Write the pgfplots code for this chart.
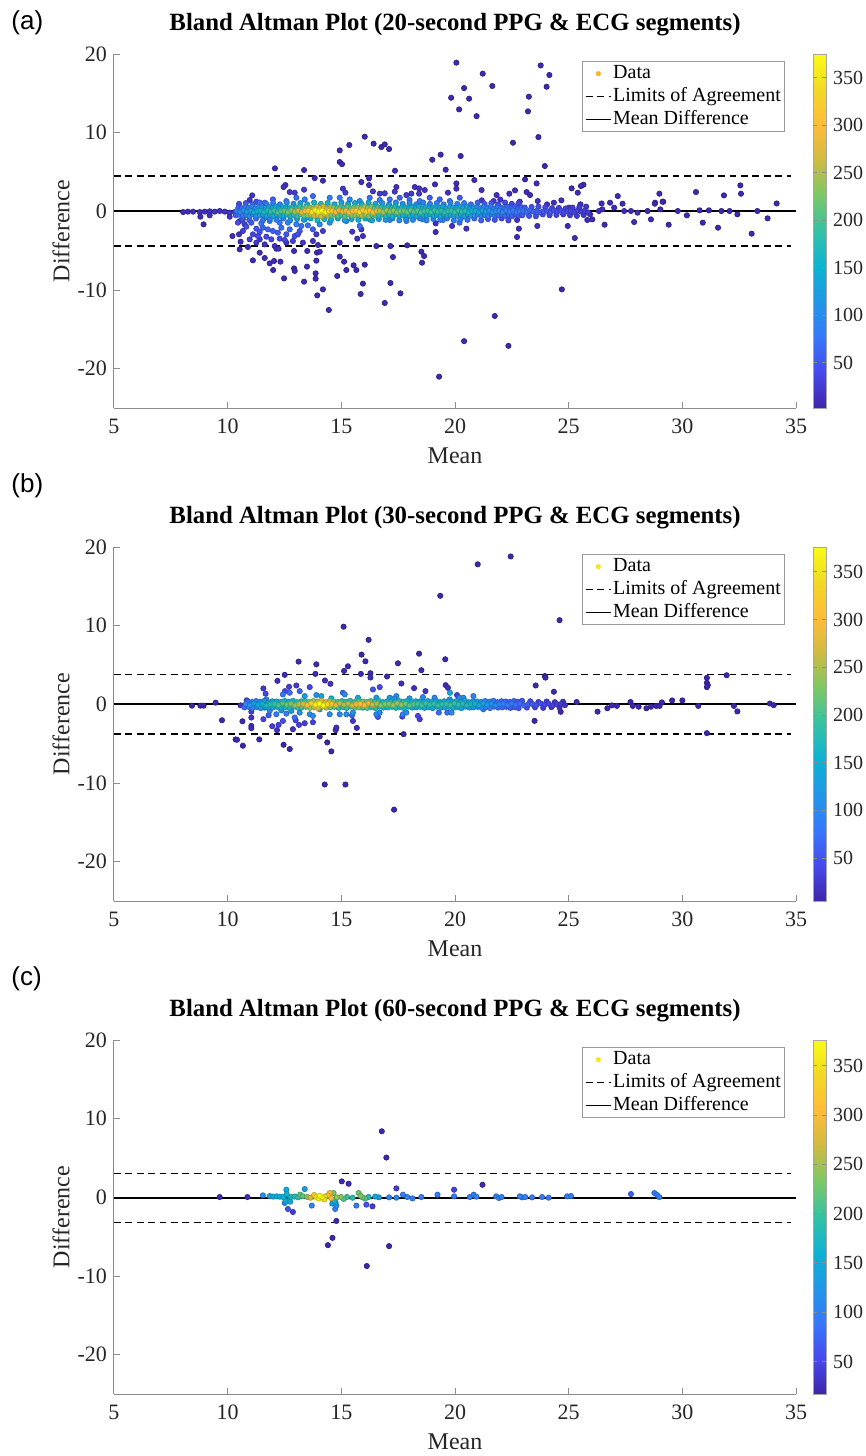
\documentclass[border=0pt]{standalone}
\usepackage{fontspec}
\setmainfont{Liberation Serif}
\newfontfamily\sansf{Liberation Sans}
\usepackage{pgfplots}
\pgfplotsset{compat=1.18}
\usepackage{pgfplotstable}

% parula-like colormap
\pgfplotsset{colormap={parula}{rgb255=(62,38,168) rgb255=(71,73,236) rgb255=(55,120,251) rgb255=(33,151,231) rgb255=(13,178,211) rgb255=(52,193,165) rgb255=(122,200,103) rgb255=(206,187,66) rgb255=(254,188,58) rgb255=(243,215,37) rgb255=(249,251,21)}}
\definecolor{dataA}{RGB}{250,180,50}
\definecolor{dataB}{RGB}{245,228,30}

\pgfplotsset{
  ba/.style={
    scale only axis, width=341pt, height=177pt,
    xmin=5, xmax=35, ymin=-25, ymax=20,
    xtick={5,10,...,35}, ytick={-20,-10,0,10,20},
    axis x line*=bottom, axis y line*=left,
    axis line style={draw=black!45, line width=0.5pt},
    tick style={draw=black!45, line width=0.5pt},
    tick align=inside, major tick length=3pt,
    ticklabel style={font=\fontsize{11}{13}\selectfont, text=black!85},
    /pgf/number format/assume math mode=true,
    xticklabel style={yshift=-2pt},
    xlabel={Mean}, ylabel={Difference},
    label style={font=\fontsize{12}{14}\selectfont, text=black!85},
    xlabel style={at={(axis description cs:0.5,-0.1356)}, anchor=center},
    ylabel style={at={(axis description cs:-0.0777,0.5)}, anchor=center},
    title style={font=\bfseries\fontsize{12.4}{14}\selectfont, at={(axis description cs:0.5,1)}, anchor=base, yshift=6pt},
    colormap name=parula, colorbar,
    colorbar style={
      at={(parent axis.north east)}, anchor=north west,
      scale only axis, width=6.5pt, height=177pt,
      ytick={50,100,...,350},
      /pgf/number format/assume math mode=true,
      yticklabel style={font=\fontsize{10}{12}\selectfont, text=black!85},
      axis line style={draw=black!35, line width=0.4pt},
      tick style={draw=black!45, line width=0.4pt}, major tick length=2pt,
    },
    legend style={
      at={(axis description cs:0.9839,0.9802)}, anchor=north east,
      draw=black!40, line width=0.5pt, fill=white,
      font=\fontsize{10}{12}\selectfont,
      inner xsep=1pt, inner ysep=0.5pt, row sep=0.4pt,
      nodes={inner sep=0.8pt, text height=7.2pt, text depth=2.3pt},
    },
    legend cell align=left,
    legend image code/.code={\draw[##1] (0pt,0pt) -- (12.5pt,0pt);},
  },
  pts/.style={scatter, only marks, mark=*, mark size=1.3pt, scatter src=explicit, forget plot},
  loa/.style={black, line width=0.85pt, dash pattern=on 3.4pt off 2.3pt},
  md/.style={black, line width=0.85pt},
}

% ---------------- 20-second data ----------------
\pgfplotstableread{
x y c
20.06 18.90 6
23.77 18.55 6
24.15 17.33 6
21.22 17.50 6
24.03 15.84 6
21.64 15.93 6
20.40 15.67 6
19.83 14.44 6
20.62 14.32 6
23.25 14.57 6
20.18 12.96 6
20.95 12.10 6
23.21 12.71 6
16.03 9.49 6
14.93 7.75 6
15.35 8.43 6
16.42 8.60 6
16.76 8.17 6
16.91 8.51 6
17.10 7.92 6
14.93 6.27 8
15.03 6.00 8
19.00 6.56 6
19.37 7.20 6
20.25 7.03 6
23.67 9.44 6
22.55 8.72 6
23.95 5.76 6
12.08 5.46 8
13.36 5.25 8
17.36 5.16 8
19.59 5.29 8
13.83 4.23 10
14.19 3.89 10
15.88 3.72 12
16.22 4.19 12
16.22 3.34 14
19.12 3.43 10
20.06 3.55 10
20.06 2.88 12
19.69 2.37 14
20.85 3.98 10
23.08 4.06 8
23.59 3.55 8
23.15 2.45 10
23.30 2.07 10
21.17 2.71 12
21.83 2.07 14
22.39 2.24 12
22.64 2.67 10
25.13 2.92 8
25.40 2.37 8
25.65 3.38 8
25.54 3.22 8
27.16 1.94 8
26.82 1.10 10
26.45 1.00 10
28.99 2.24 8
29.16 1.22 8
28.80 1.10 8
30.60 2.45 6
31.83 2.03 6
32.55 3.30 6
32.58 2.24 6
34.15 1.00 6
12.54 3.34 14
12.46 3.09 16
12.73 2.45 22
12.95 2.37 24
11.08 2.03 18
13.36 2.75 24
17.42 3.09 14
18.23 3.09 14
18.42 2.92 14
18.67 2.71 16
17.35 2.50 20
16.39 2.54 22
16.69 2.25 24
16.91 2.30 24
17.86 2.07 24
18.08 2.25 22
18.42 2.25 22
15.07 2.88 20
15.18 2.37 26
33.30 0.04 6
33.75 -0.89 6
33.05 -2.84 6
32.42 -0.38 6
32.08 0.04 6
31.72 0.04 6
31.17 0.13 6
30.76 0.13 6
30.90 -1.44 6
31.57 -2.08 6
30.20 -0.51 6
29.80 0.04 8
29.40 -1.70 6
29.13 1.23 6
28.79 0.97 6
29.03 0.25 8
28.62 -1.02 8
28.47 0.04 8
28.03 -0.17 8
27.88 -1.36 8
27.74 0.04 8
27.37 0.97 8
27.44 0.04 10
27.00 0.47 10
26.58 -1.70 8
26.48 0.25 12
26.33 0.04 12
25.94 -0.38 12
25.82 -1.10 10
26.04 -1.02 10
25.52 0.89 12
25.27 -3.39 8
24.96 -1.86 10
25.01 0.47 14
24.68 1.40 12
24.70 -9.92 6
24.35 1.10 14
24.05 0.89 16
23.64 1.31 14
23.62 -1.86 12
22.85 1.23 18
22.73 -1.10 18
22.81 -2.20 12
22.73 -3.26 10
21.75 -13.30 6
22.35 -17.10 6
20.40 -16.50 6
19.30 -21.02 6
20.50 -2.20 14
19.87 -1.86 18
21.99 1.50 18
21.70 1.31 20
21.18 1.40 22
8.04 -0.09 10
8.25 -0.04 10
8.48 -0.04 12
8.77 -0.09 12
8.99 -0.04 14
9.21 0.00 14
9.43 -0.04 16
9.65 0.04 16
9.87 -0.04 18
10.09 -0.17 22
10.31 -0.09 26
8.80 -0.68 10
8.94 -1.65 8
9.21 -0.51 12
10.09 -0.68 18
10.21 -3.14 10
10.50 -2.92 12
10.53 -1.23 22
10.75 -1.65 26
10.57 -3.86 10
10.53 -4.83 8
10.89 -4.53 10
11.11 -6.23 8
11.41 -5.26 10
11.63 -5.93 8
11.85 -6.61 8
12.04 -6.31 8
12.00 -7.46 6
12.32 -6.40 8
12.48 -8.52 6
12.92 -7.25 6
12.95 -7.58 6
12.92 -5.04 10
13.50 -5.04 10
13.49 -7.03 8
13.36 -8.94 6
13.87 -7.88 6
13.87 -8.56 6
13.94 -10.68 6
14.19 -9.92 6
14.45 -12.54 6
13.90 -6.27 8
13.93 -5.25 10
14.05 -5.13 10
13.97 -4.28 12
11.41 -3.56 20
11.63 -4.20 16
12.07 -4.41 14
12.14 -4.75 14
12.24 -4.75 14
12.58 -3.98 18
13.31 -3.98 18
13.75 -3.77 16
14.93 -3.98 12
14.93 -5.76 8
15.12 -6.40 8
14.82 -8.22 6
15.22 -7.46 6
15.54 -6.86 6
15.66 -7.46 6
16.03 -6.78 6
15.95 -9.19 6
15.85 -10.51 6
16.54 -4.41 8
17.16 -4.41 8
17.27 -5.81 6
17.16 -9.11 6
17.60 -10.42 6
16.91 -11.65 6
17.90 -4.32 8
18.52 -5.13 6
18.64 -5.68 6
18.55 -6.53 6
15.48 -2.59 20
15.70 -3.47 14
15.95 -3.14 14
15.88 -2.29 22
14.19 -2.50 26
13.90 -2.92 22
19.15 -2.63 10
19.15 -1.53 16
10.97 1.44 20
11.26 1.22 40
10.45 -1.44 40
10.82 -1.95 42
11.04 -1.44 55
11.26 -2.20 48
11.41 -2.63 46
11.55 -2.08 60
11.77 -2.29 62
11.99 -2.50 58
12.21 -2.71 55
12.36 -2.08 70
12.58 -2.92 50
12.73 -2.29 65
12.95 -3.14 40
13.17 -2.50 50
11.11 -2.92 36
11.33 -3.14 38
11.70 -3.22 40
11.92 -3.56 34
12.29 -3.47 38
12.51 -3.64 34
12.87 -3.77 30
13.09 -2.92 44
13.24 -1.86 70
13.53 -1.78 72
13.75 -2.29 55
10.67 -2.50 30
10.97 -3.56 26
11.26 -3.98 24
12.29 -1.44 85
11.85 -1.23 88
11.48 -1.53 75
12.65 -1.44 90
13.02 -1.65 85
10.67 -1.02 50
11.63 -0.81 100
12.43 -0.81 110
13.39 -1.02 120
14.05 -1.65 95
14.49 -1.44 110
15.22 -1.23 115
15.81 -1.86 70
16.25 -1.02 120
17.13 -1.10 100
17.86 -1.23 90
18.59 -1.02 100
19.47 -1.10 95
20.20 -1.44 70
11.63 1.10 70
11.99 1.52 55
12.58 1.31 75
13.02 1.73 70
13.39 1.52 90
13.75 1.94 65
14.49 1.73 85
14.93 1.73 80
15.37 1.52 95
15.81 1.31 110
16.25 1.73 70
16.69 1.44 80
17.13 1.52 75
17.57 1.73 60
18.00 1.44 70
18.45 1.31 80
18.89 1.73 55
19.33 1.52 65
19.77 1.31 80
20.21 1.73 55
11.70 0.80 80
10.50 0.95 40
10.80 1.05 50
11.10 0.88 59
11.40 1.12 68
11.70 0.95 76
12.00 1.05 83
12.30 0.88 90
12.60 1.12 97
12.90 0.95 106
13.20 1.05 120
13.50 0.88 141
13.80 1.12 160
14.10 0.95 168
14.40 1.05 156
14.70 0.88 135
15.00 1.12 123
15.30 0.95 130
15.60 1.05 141
15.90 0.88 148
16.20 1.12 141
16.50 0.95 126
16.80 1.05 111
17.10 0.88 104
17.40 1.12 100
17.70 0.95 97
18.00 1.05 93
18.30 0.88 90
18.60 1.12 87
18.90 0.95 85
19.20 1.05 83
19.50 0.88 82
19.80 1.12 83
20.10 0.95 84
20.40 1.05 78
20.70 0.88 69
21.00 1.12 61
21.30 0.95 54
21.60 1.05 49
21.90 0.88 44
22.20 1.12 40
22.50 0.95 36
22.80 1.05 34
10.65 -0.98 45
10.95 -1.08 55
11.25 -0.90 64
11.55 -1.15 72
11.85 -0.98 80
12.15 -1.08 87
12.45 -0.90 93
12.75 -1.15 101
13.05 -0.98 113
13.35 -1.08 130
13.65 -0.90 150
13.95 -1.15 164
14.25 -0.98 162
14.55 -1.08 145
14.85 -0.90 129
15.15 -1.15 126
15.45 -0.98 136
15.75 -1.08 145
16.05 -0.90 145
16.35 -1.15 133
16.65 -0.98 118
16.95 -1.08 107
17.25 -0.90 102
17.55 -1.15 98
17.85 -0.98 95
18.15 -1.08 91
18.45 -0.90 88
18.75 -1.15 86
19.05 -0.98 84
19.35 -1.08 82
19.65 -0.90 82
19.95 -1.15 84
20.25 -0.98 81
20.55 -1.08 73
20.85 -0.90 65
21.15 -1.15 57
21.45 -0.98 51
21.75 -1.08 46
22.05 -0.90 42
22.35 -1.15 38
10.47 0.48 58
10.62 0.40 68
10.77 0.56 76
10.92 0.44 83
11.07 0.60 90
11.22 0.37 97
11.37 0.52 104
11.52 0.48 112
11.67 0.40 119
11.82 0.56 124
11.97 0.44 130
12.12 0.60 135
12.27 0.37 140
12.42 0.52 145
12.57 0.48 151
12.72 0.40 157
12.87 0.56 164
13.02 0.44 173
13.17 0.60 184
13.32 0.37 198
13.47 0.52 215
13.62 0.48 232
13.77 0.40 248
13.92 0.56 261
14.07 0.44 270
14.22 0.60 268
14.37 0.37 259
14.52 0.52 245
14.67 0.48 227
14.82 0.40 210
14.97 0.56 200
15.12 0.44 196
15.27 0.60 202
15.42 0.37 210
15.57 0.52 220
15.72 0.48 229
15.87 0.40 236
16.02 0.56 238
16.17 0.44 232
16.32 0.60 223
16.47 0.37 210
16.62 0.52 196
16.77 0.48 184
16.92 0.40 174
17.07 0.56 169
17.22 0.44 166
17.37 0.60 163
17.52 0.37 160
17.67 0.52 157
17.82 0.48 154
17.97 0.40 151
18.12 0.56 148
18.27 0.44 145
18.42 0.60 143
18.57 0.37 141
18.72 0.52 139
18.87 0.48 137
19.02 0.40 135
19.17 0.56 134
19.32 0.44 132
19.47 0.60 131
19.62 0.37 131
19.77 0.52 132
19.92 0.48 134
20.07 0.40 135
20.22 0.56 134
20.37 0.44 130
20.52 0.60 122
20.67 0.37 115
20.82 0.52 108
20.97 0.48 101
21.12 0.40 95
21.27 0.56 90
21.42 0.44 85
21.57 0.60 81
21.72 0.37 76
21.87 0.52 73
22.02 0.48 69
22.17 0.40 66
22.32 0.56 63
22.47 0.44 60
22.62 0.60 58
22.77 0.37 55
22.92 0.52 53
23.07 0.48 51
23.37 0.56 47
23.67 0.60 42
23.97 0.52 38
24.27 0.40 35
24.57 0.44 32
24.87 0.37 29
25.17 0.48 26
25.47 0.56 23
25.77 0.60 20
10.36 -0.50 58
10.51 -0.42 68
10.66 -0.58 76
10.81 -0.46 83
10.96 -0.62 90
11.11 -0.39 97
11.26 -0.54 104
11.41 -0.50 112
11.56 -0.42 119
11.71 -0.58 124
11.86 -0.46 130
12.01 -0.62 135
12.16 -0.39 140
12.31 -0.54 145
12.46 -0.50 151
12.61 -0.42 157
12.76 -0.58 164
12.91 -0.46 173
13.06 -0.62 184
13.21 -0.39 198
13.36 -0.54 215
13.51 -0.50 232
13.66 -0.42 248
13.81 -0.58 261
13.96 -0.46 270
14.11 -0.62 268
14.26 -0.39 259
14.41 -0.54 245
14.56 -0.50 227
14.71 -0.42 210
14.86 -0.58 200
15.01 -0.46 196
15.16 -0.62 202
15.31 -0.39 210
15.46 -0.54 220
15.61 -0.50 229
15.76 -0.42 236
15.91 -0.58 238
16.06 -0.46 232
16.21 -0.62 223
16.36 -0.39 210
16.51 -0.54 196
16.66 -0.50 184
16.81 -0.42 174
16.96 -0.58 169
17.11 -0.46 166
17.26 -0.62 163
17.41 -0.39 160
17.56 -0.54 157
17.71 -0.50 154
17.86 -0.42 151
18.01 -0.58 148
18.16 -0.46 145
18.31 -0.62 143
18.46 -0.39 141
18.61 -0.54 139
18.76 -0.50 137
18.91 -0.42 135
19.06 -0.58 134
19.21 -0.46 132
19.36 -0.62 131
19.51 -0.39 131
19.66 -0.54 132
19.81 -0.50 134
19.96 -0.42 135
20.11 -0.58 134
20.26 -0.46 130
20.41 -0.62 122
20.56 -0.39 115
20.71 -0.54 108
20.86 -0.50 101
21.01 -0.42 95
21.16 -0.58 90
21.31 -0.46 85
21.46 -0.62 81
21.61 -0.39 76
21.76 -0.54 73
21.91 -0.50 69
22.06 -0.42 66
22.21 -0.58 63
22.36 -0.46 60
22.51 -0.62 58
22.66 -0.39 55
22.81 -0.54 53
22.96 -0.50 51
23.26 -0.58 47
23.56 -0.62 42
23.86 -0.39 38
24.16 -0.50 36
24.46 -0.46 33
24.76 -0.39 29
25.06 -0.50 26
25.36 -0.58 24
25.66 -0.46 21
10.40 0.05 80
10.55 -0.10 95
10.70 0.12 105
10.85 -0.04 115
11.00 0.08 125
11.15 -0.13 135
11.30 0.02 145
11.45 0.05 155
11.60 -0.10 165
11.75 0.12 172
11.90 -0.04 180
12.05 0.08 188
12.20 -0.13 195
12.35 0.02 202
12.50 0.05 210
12.65 -0.10 218
12.80 0.12 228
12.95 -0.04 240
13.10 0.08 255
13.25 -0.13 275
13.40 0.02 298
13.55 0.05 322
13.70 -0.10 345
13.85 0.12 362
14.00 -0.04 375
14.15 0.08 372
14.30 -0.13 360
14.45 0.02 340
14.60 0.05 315
14.75 -0.10 292
14.90 0.12 278
15.05 -0.04 272
15.20 0.08 280
15.35 -0.13 292
15.50 0.02 305
15.65 0.05 318
15.80 -0.10 328
15.95 0.12 330
16.10 -0.04 322
16.25 0.08 310
16.40 -0.13 292
16.55 0.02 272
16.70 0.05 255
16.85 -0.10 242
17.00 0.12 235
17.15 -0.04 230
17.30 0.08 226
17.45 -0.13 222
17.60 0.02 218
17.75 0.05 214
17.90 -0.10 210
18.05 0.12 206
18.20 -0.04 202
18.35 0.08 199
18.50 -0.13 196
18.65 0.02 193
18.80 0.05 190
18.95 -0.10 188
19.10 0.12 186
19.25 -0.04 184
19.40 0.08 182
19.55 -0.13 182
19.70 0.02 184
19.85 0.05 186
20.00 -0.10 188
20.15 0.12 186
20.30 -0.04 180
20.45 0.08 170
20.60 -0.13 160
20.75 0.02 150
20.90 0.05 140
21.05 -0.10 132
21.20 0.12 125
21.35 -0.04 118
21.50 0.08 112
21.65 -0.13 106
21.80 0.02 101
21.95 0.05 96
22.10 -0.10 92
22.25 0.12 88
22.40 -0.04 84
22.55 0.08 80
22.70 -0.13 77
22.85 0.02 74
23.00 0.05 71
23.15 -0.10 68
23.30 0.12 65
23.45 -0.04 62
23.60 0.08 59
23.75 -0.13 56
23.90 0.02 53
24.05 0.05 50
24.20 -0.10 48
24.35 0.12 46
24.50 -0.04 44
24.65 0.08 42
24.80 -0.13 40
24.95 0.02 38
25.10 0.05 36
25.25 -0.10 34
25.40 0.12 32
25.55 -0.04 30
25.70 0.08 28
25.85 -0.13 26
}\tA

% ---------------- 30-second data ----------------
\pgfplotstableread{
x y c
19.35 13.80 6
15.10 9.87 6
16.20 8.20 6
15.89 6.32 6
16.06 5.47 8
15.29 4.84 8
15.12 4.25 10
13.12 5.43 8
13.90 5.09 8
13.86 3.87 10
12.51 3.75 10
15.86 3.87 10
16.28 3.96 10
16.28 3.41 12
17.49 5.22 8
18.42 6.44 6
18.52 4.34 8
19.57 5.73 6
17.01 3.54 10
17.64 2.65 14
18.20 2.06 16
18.70 1.68 20
19.59 2.44 14
19.69 2.10 16
12.19 2.99 14
12.70 2.23 30
13.02 2.40 28
11.57 2.02 24
14.28 3.03 16
14.52 2.61 20
9.47 0.21 8
8.43 -0.17 6
8.80 -0.17 6
8.94 -0.17 6
10.57 -0.13 20
9.75 -2.02 6
10.65 -2.15 8
10.35 -4.46 6
10.41 -4.50 6
10.67 -5.26 6
11.39 -4.46 6
11.04 -1.68 22
11.04 -2.74 14
11.04 -3.03 12
11.96 -2.78 30
12.17 -3.28 20
12.24 -2.61 35
12.46 -5.14 6
12.73 -5.68 6
12.87 -3.16 20
12.99 -2.02 35
13.14 -2.61 30
13.39 -2.40 30
13.75 -2.27 35
14.05 -4.08 8
14.38 -4.84 6
14.56 -5.98 6
14.75 -3.28 14
14.78 -2.95 16
14.27 -10.19 6
15.18 -10.19 6
17.32 -13.39 6
15.51 -2.11 25
15.68 -2.99 14
17.74 -3.79 8
18.45 -1.89 30
21.00 17.80 6
22.45 18.80 6
24.60 10.70 6
23.95 3.60 6
23.98 3.40 6
23.55 2.40 8
24.35 1.60 8
23.50 -2.10 6
25.35 0.30 10
24.65 -0.95 8
26.27 -0.93 6
26.70 -0.50 6
26.90 -0.13 6
27.12 -0.20 6
27.72 0.30 6
27.82 -0.20 6
28.08 -0.30 6
28.42 -0.50 6
28.62 -0.30 6
28.85 -0.20 6
29.00 -0.20 6
29.10 0.25 6
29.55 0.50 6
30.00 0.50 6
30.70 -0.20 6
31.08 3.37 6
31.08 2.74 6
31.12 2.44 6
31.08 2.19 6
31.08 -3.66 6
31.95 3.70 6
32.27 -0.20 6
32.42 -0.90 6
33.85 0.10 6
34.02 -0.10 6
10.84 0.51 30
11.04 -0.93 30
12.52 1.68 40
11.67 1.35 40
13.61 2.19 40
16.69 2.19 40
11.57 -1.89 40
12.43 -2.11 45
16.39 1.89 50
11.80 -1.39 55
20.09 1.18 30
15.47 -1.39 60
16.61 -1.60 50
17.68 -1.56 40
18.37 -1.47 40
19.29 -1.05 70
19.66 -1.05 70
15.07 1.47 70
11.85 -0.84 95
12.14 -1.26 80
12.58 -1.18 90
12.95 -1.68 70
13.61 -1.26 110
13.75 -1.47 100
14.49 -1.26 110
14.93 -1.26 100
15.22 -1.26 100
15.51 -1.05 110
16.54 -1.26 90
16.69 -1.05 100
17.71 -1.26 90
17.86 -1.05 100
12.43 1.26 80
12.73 1.47 70
13.17 1.68 60
15.15 1.26 100
17.42 1.05 100
18.59 0.93 100
19.10 0.84 100
20.20 0.84 110
20.37 0.84 100
20.81 1.05 90
21.25 -0.63 100
19.85 -1.05 100
11.63 -0.42 110
12.36 -0.76 110
12.80 -0.84 120
13.17 -1.05 110
14.05 -0.63 150
15.95 -0.42 170
17.13 0.84 110
17.32 0.72 120
11.70 0.63 100
13.39 1.05 120
13.90 1.18 110
14.12 1.05 130
14.56 0.76 150
15.73 0.84 140
16.54 0.84 120
18.00 0.76 110
19.77 0.63 120
19.78 1.47 150
10.89 0.36 68
11.07 0.30 79
11.25 0.42 90
11.43 0.33 101
11.61 0.45 112
11.79 0.28 121
11.97 0.39 130
12.15 0.36 137
12.33 0.30 144
12.51 0.42 150
12.69 0.33 156
12.87 0.45 163
13.05 0.28 171
13.23 0.39 181
13.41 0.36 196
13.59 0.30 215
13.77 0.42 238
13.95 0.33 258
14.13 0.45 271
14.31 0.28 266
14.49 0.39 248
14.67 0.36 225
14.85 0.30 202
15.03 0.42 186
15.21 0.33 179
15.39 0.45 181
15.57 0.28 193
15.75 0.39 209
15.93 0.36 220
16.11 0.30 216
16.29 0.42 205
16.47 0.33 189
16.65 0.45 176
16.83 0.28 167
17.01 0.39 163
17.19 0.36 164
17.37 0.30 171
17.55 0.42 174
17.73 0.33 169
17.91 0.45 160
18.09 0.28 153
18.27 0.39 148
18.45 0.36 144
18.63 0.30 141
18.81 0.42 138
18.99 0.33 137
19.17 0.45 135
19.35 0.28 134
19.53 0.39 134
19.71 0.36 135
19.89 0.30 137
20.07 0.42 135
20.25 0.33 132
20.43 0.45 128
20.61 0.28 124
20.79 0.39 119
20.97 0.36 112
21.15 0.30 104
21.33 0.42 95
21.51 0.33 86
21.69 0.45 79
21.87 0.28 73
22.05 0.39 69
22.23 0.36 65
22.41 0.30 61
22.59 0.42 58
22.77 0.33 54
22.95 0.45 50
23.31 0.39 43
23.67 0.30 36
24.03 0.36 30
24.39 0.28 25
24.75 0.33 19
10.74 -0.38 68
10.92 -0.32 79
11.10 -0.45 90
11.28 -0.35 101
11.46 -0.48 112
11.64 -0.30 121
11.82 -0.41 130
12.00 -0.38 137
12.18 -0.32 144
12.36 -0.45 150
12.54 -0.35 156
12.72 -0.48 163
12.90 -0.30 171
13.08 -0.41 181
13.26 -0.38 196
13.44 -0.32 215
13.62 -0.45 238
13.80 -0.35 258
13.98 -0.48 271
14.16 -0.30 266
14.34 -0.41 248
14.52 -0.38 225
14.70 -0.32 202
14.88 -0.45 186
15.06 -0.35 179
15.24 -0.48 181
15.42 -0.30 193
15.60 -0.41 209
15.78 -0.38 220
15.96 -0.32 216
16.14 -0.45 205
16.32 -0.35 189
16.50 -0.48 176
16.68 -0.30 167
16.86 -0.41 163
17.04 -0.38 164
17.22 -0.32 171
17.40 -0.45 174
17.58 -0.35 169
17.76 -0.48 160
17.94 -0.30 153
18.12 -0.41 148
18.30 -0.38 144
18.48 -0.32 141
18.66 -0.45 138
18.84 -0.35 137
19.02 -0.48 135
19.20 -0.30 134
19.38 -0.41 134
19.56 -0.38 135
19.74 -0.32 137
19.92 -0.45 135
20.10 -0.35 132
20.28 -0.48 128
20.46 -0.30 124
20.64 -0.41 119
20.82 -0.38 112
21.00 -0.32 104
21.18 -0.45 95
21.36 -0.35 86
21.54 -0.48 79
21.72 -0.30 73
21.90 -0.41 69
22.08 -0.38 65
22.26 -0.32 61
22.44 -0.45 58
22.62 -0.35 54
22.80 -0.48 50
23.16 -0.41 43
23.52 -0.38 36
23.88 -0.45 30
24.24 -0.35 25
24.60 -0.41 19
10.80 0.05 95
10.98 -0.10 110
11.16 0.12 125
11.34 -0.04 140
11.52 0.08 155
11.70 -0.13 168
11.88 0.02 180
12.06 0.05 190
12.24 -0.10 200
12.42 0.12 208
12.60 -0.04 216
12.78 0.08 226
12.96 -0.13 238
13.14 0.02 252
13.32 0.05 272
13.50 -0.10 298
13.68 0.12 330
13.86 -0.04 358
14.04 0.08 376
14.22 -0.13 370
14.40 0.02 345
14.58 0.05 312
14.76 -0.10 280
14.94 0.12 258
15.12 -0.04 248
15.30 0.08 252
15.48 -0.13 268
15.66 0.02 290
15.84 0.05 305
16.02 -0.10 300
16.20 0.12 285
16.38 -0.04 262
16.56 0.08 245
16.74 -0.13 232
16.92 0.02 226
17.10 0.05 228
17.28 -0.10 238
17.46 0.12 242
17.64 -0.04 235
17.82 0.08 222
18.00 -0.13 212
18.18 0.02 205
18.36 0.05 200
18.54 -0.10 196
18.72 0.12 192
18.90 -0.04 190
19.08 0.08 188
19.26 -0.13 186
19.44 0.02 186
19.62 0.05 188
19.80 -0.10 190
19.98 0.12 188
20.16 -0.04 184
20.34 0.08 178
20.52 -0.13 172
20.70 0.02 165
20.88 0.05 156
21.06 -0.10 145
21.24 0.12 132
21.42 -0.04 120
21.60 0.08 110
21.78 -0.13 102
21.96 0.02 96
22.14 0.05 90
22.32 -0.10 85
22.50 0.12 80
22.68 -0.04 75
22.86 0.08 70
23.04 -0.13 65
23.22 0.02 60
23.40 0.05 55
23.58 -0.10 50
23.76 0.12 46
23.94 -0.04 42
24.12 0.08 38
24.30 -0.13 34
24.48 0.02 30
24.66 0.05 26
24.84 -0.10 22
}\tB

% ---------------- 60-second data ----------------
\pgfplotstableread{
x y c
16.78 8.40 17
16.98 5.06 17
14.61 -5.15 17
14.41 -6.08 17
16.12 -8.73 17
17.10 -6.20 17
14.78 -3.00 20
15.02 2.03 20
15.32 1.73 20
21.21 1.60 20
9.65 0.04 20
10.87 0.04 25
17.42 1.14 40
12.87 -1.86 40
16.37 -1.14 40
19.96 0.97 45
12.65 -1.48 60
16.10 -0.93 60
27.74 0.42 70
15.66 -1.05 90
19.23 0.34 90
19.96 0.13 90
23.83 0.04 90
24.12 -0.04 90
28.77 0.55 90
18.13 -0.13 95
18.52 0.04 95
20.65 0.04 95
20.82 0.34 95
22.95 0.00 95
23.09 0.04 95
23.39 0.00 95
24.93 0.13 95
25.10 0.17 95
28.89 0.30 95
13.70 -1.05 100
14.73 -1.48 100
17.10 0.00 100
17.71 0.34 100
17.90 0.04 100
20.94 0.08 100
21.81 0.13 100
21.93 -0.08 100
22.05 0.04 100
22.85 0.13 100
28.99 0.04 100
17.42 -0.04 105
14.78 -1.05 110
12.51 -0.72 110
11.55 0.25 110
13.39 1.05 130
16.65 0.00 130
14.60 -0.80 130
11.85 0.17 140
12.70 -0.30 140
12.00 0.10 150
12.58 0.97 150
16.49 0.10 150
14.75 -0.65 150
12.55 -0.45 150
12.75 -0.55 150
12.15 0.13 155
12.30 0.08 160
12.45 0.04 160
14.70 -0.50 160
12.60 0.40 165
12.80 0.05 175
12.95 0.10 180
16.20 0.05 180
15.50 -0.05 190
13.10 0.00 195
15.25 0.05 200
15.10 -0.20 210
16.05 -0.15 210
13.19 0.34 215
13.30 0.15 220
15.76 0.55 225
15.93 0.00 225
14.66 0.55 230
15.85 0.20 230
14.98 0.05 235
13.50 0.05 240
14.80 0.00 240
13.65 -0.05 275
14.49 0.55 300
14.55 -0.10 300
14.40 0.25 320
13.80 0.30 330
14.29 0.10 340
14.25 -0.25 350
13.90 0.05 355
14.00 -0.15 370
14.15 0.00 370
14.05 0.20 376
}\tC

\begin{document}
\begin{tikzpicture}
% (a) 20-second
\begin{axis}[ba, at={(57pt,-204pt)}, anchor=south west,
  point meta min=2, point meta max=375,
  title={Bland Altman Plot (20-second PPG \& ECG segments)}]
\addplot[pts] table[meta=c] {\tA};
\addlegendimage{legend image code/.code={\fill[dataA] (6.3pt,0pt) circle (1pt);}}
\addlegendentry{Data}
\addplot[loa] coordinates {(5,4.45) (34.8,4.45)};
\addlegendentry{Limits of Agreement}
\addplot[loa, forget plot] coordinates {(5,-4.40) (34.8,-4.40)};
\addplot[md] coordinates {(5,0.02) (35,0.02)};
\addlegendentry{Mean Difference}
\end{axis}

% (b) 30-second
\begin{axis}[ba, at={(57pt,-450.5pt)}, anchor=south west,
  point meta min=5, point meta max=376,
  title={Bland Altman Plot (30-second PPG \& ECG segments)}]
\addplot[pts] table[meta=c] {\tB};
\addlegendimage{legend image code/.code={\fill[dataB] (6.3pt,0pt) circle (1pt);}}
\addlegendentry{Data}
\addplot[loa] coordinates {(5,3.78) (34.8,3.78)};
\addlegendentry{Limits of Agreement}
\addplot[loa, forget plot] coordinates {(5,-3.76) (34.8,-3.76)};
\addplot[md] coordinates {(5,0.02) (35,0.02)};
\addlegendentry{Mean Difference}
\end{axis}

% (c) 60-second
\begin{axis}[ba, at={(57pt,-697pt)}, anchor=south west,
  point meta min=17, point meta max=376,
  title={Bland Altman Plot (60-second PPG \& ECG segments)}]
\addplot[pts] table[meta=c] {\tC};
\addlegendimage{legend image code/.code={\fill[dataB] (6.3pt,0pt) circle (1pt);}}
\addlegendentry{Data}
\addplot[loa] coordinates {(5,3.03) (34.8,3.03)};
\addlegendentry{Limits of Agreement}
\addplot[loa, forget plot] coordinates {(5,-3.18) (34.8,-3.18)};
\addplot[md] coordinates {(5,-0.08) (35,-0.08)};
\addlegendentry{Mean Difference}
\end{axis}

\node[font=\sansf\fontsize{13}{15}\selectfont, anchor=west, inner sep=0pt] at (5.5pt,-11.5pt) {(a)};
\node[font=\sansf\fontsize{13}{15}\selectfont, anchor=west, inner sep=0pt] at (5.5pt,-243pt) {(b)};
\node[font=\sansf\fontsize{13}{15}\selectfont, anchor=west, inner sep=0pt] at (5.5pt,-489.5pt) {(c)};

\pgfresetboundingbox
\path[use as bounding box] (0pt,0pt) rectangle (433pt,-728pt);
\end{tikzpicture}
\end{document}
